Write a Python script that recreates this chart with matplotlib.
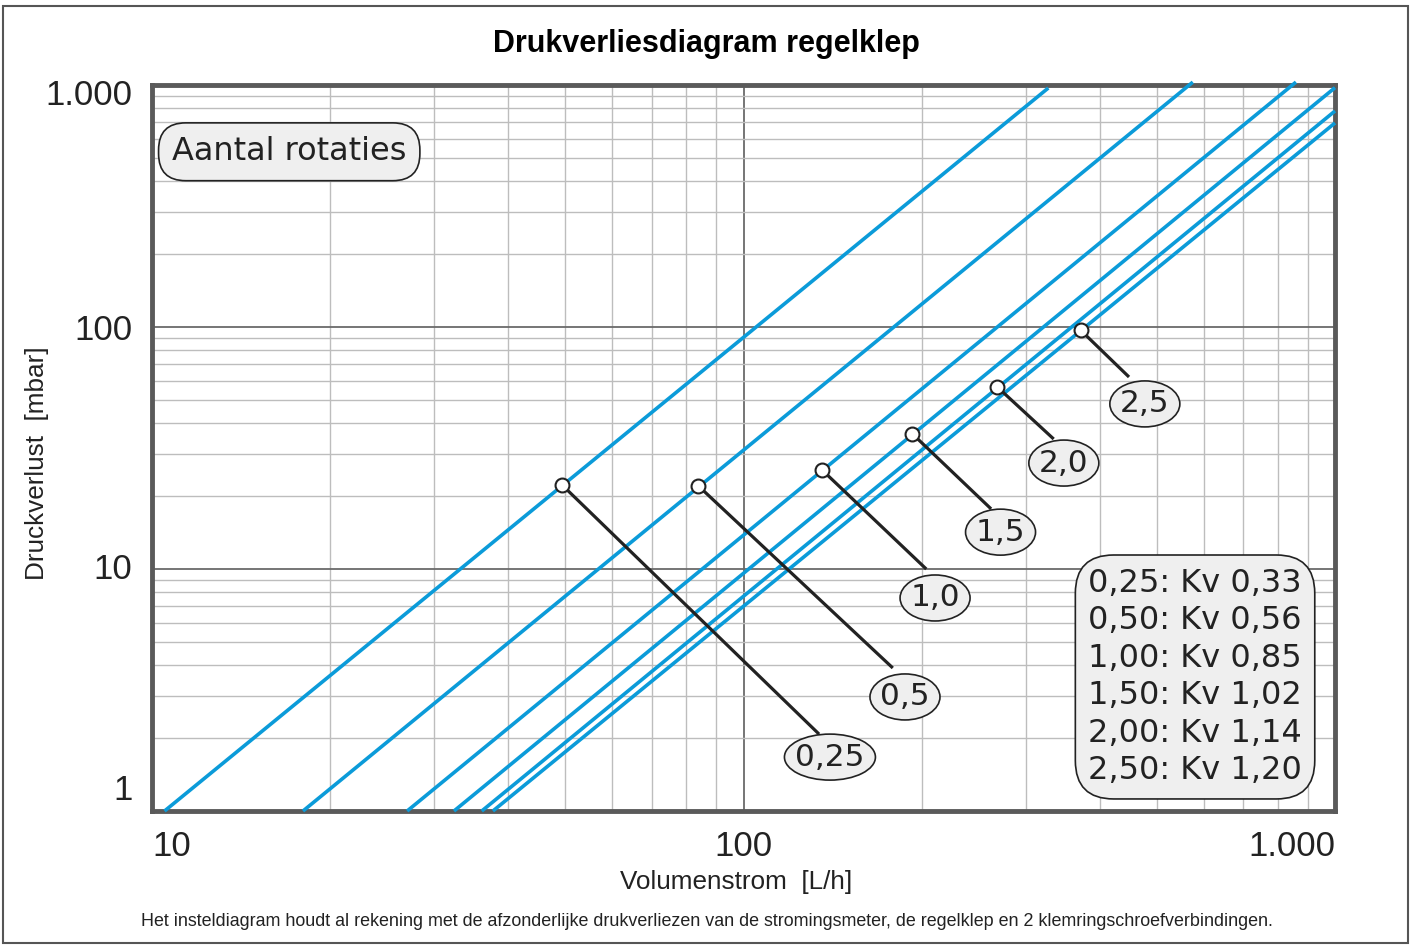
#!/usr/bin/env python3

## Drukverliesdiagram regelklep - log-log pressure drop chart
import numpy as np
import matplotlib
matplotlib.use('Agg')
from matplotlib import pyplot as plt
from matplotlib.patches import Ellipse, Rectangle
from matplotlib.ticker import NullFormatter
from matplotlib.transforms import ScaledTranslation

# settings (rotations) and Kv values shown in the box
rot_short = ['0,25', '0,5', '1,0', '1,5', '2,0', '2,5']
rot_long = ['0,25', '0,50', '1,00', '1,50', '2,00', '2,50']
kv_text = ['0,33', '0,56', '0,85', '1,02', '1,14', '1,20']

# blue lines: start and end points (L/h, mbar)
q_start = [10.5, 18.0, 27.0, 32.4, 36.1, 37.7]
dp_start = [1.0, 1.0, 1.0, 1.0, 1.0, 1.0]
q_end = [327.6, 575.0, 859.0, 1000.0, 1000.0, 1000.0]
dp_end = [972.0, 1028.0, 1028.0, 975.0, 781.0, 697.0]

# marker points on the lines
mark_q = [49.3, 83.8, 135.9, 192.7, 268.4, 371.5]
mark_dp = [22.3, 22.1, 25.6, 36.3, 56.6, 97.0]
# end of the leader lines
lead_q = [133.6, 178.0, 202.8, 261.0, 333.0, 446.5]
lead_dp = [2.10, 3.94, 10.1, 17.9, 34.8, 62.8]
# centre of the label ellipses
lab_q = [140.0, 187.5, 210.8, 272.0, 348.0, 477.0]
lab_dp = [1.67, 2.96, 7.59, 14.2, 27.4, 48.1]

xticks = [10, 100, 1000]
xtick_labels = ['10', '100', '1.000']
yticks = [1, 10, 100, 1000]
ytick_labels = ['1', '10', '100', '1.000']

BLUE = '#0b9bd9'
INK = '#222222'
FILL = '#efefef'

fig = plt.figure(figsize=(14.13, 9.47), dpi=100)
ax = fig.add_axes([152/1413, 1-811/947, 1183/1413, 726/947])
ax.set_xscale('log')
ax.set_yscale('log')
ax.set_xlim(10, 1000)
ax.set_ylim(1, 1000)

ax.grid(which='major', color='#6a6a6a', lw=1.3)
ax.grid(which='minor', color='#bdbdbd', lw=1.0)
ax.set_axisbelow(True)
for s in ax.spines.values():
    s.set_linewidth(3.5)
    s.set_color('#5a5a5a')

ax.tick_params(which='both', length=0, pad=14, labelsize=25, labelcolor=INK)
ax.set_xticks(xticks, xtick_labels)
ax.set_yticks(yticks, ytick_labels)
ax.xaxis.set_minor_formatter(NullFormatter())
ax.yaxis.set_minor_formatter(NullFormatter())
for lab in ax.get_xticklabels() + ax.get_yticklabels():
    lab.set_family('Liberation Sans')
xl = ax.get_xticklabels()
xl[0].set_ha('left')
xl[-1].set_ha('right')
yl = ax.get_yticklabels()
yl[0].set_transform(yl[0].get_transform() + ScaledTranslation(0, 0.24, fig.dpi_scale_trans))
yl[1].set_transform(yl[1].get_transform() + ScaledTranslation(0, 0.03, fig.dpi_scale_trans))
yl[-1].set_transform(yl[-1].get_transform() + ScaledTranslation(0, -0.07, fig.dpi_scale_trans))

for i in range(len(q_start)):
    ax.plot([q_start[i], q_end[i]], [dp_start[i], dp_end[i]], color=BLUE, lw=2.6,
            solid_capstyle='butt', clip_on=False, zorder=3)

for i in range(len(mark_q)):
    ax.plot([mark_q[i], lead_q[i]], [mark_dp[i], lead_dp[i]], color=INK, lw=2.3, zorder=4)
    ax.plot(mark_q[i], mark_dp[i], 'o', ms=10, mfc='white', mec=INK, mew=1.5, zorder=5)
    w = 0.91 if len(rot_short[i]) > 3 else 0.70
    tr = fig.dpi_scale_trans + ScaledTranslation(lab_q[i], lab_dp[i], ax.transData)
    e = Ellipse((0, 0), w, 0.46, transform=tr, fc=FILL, ec=INK, lw=1.2, zorder=6, clip_on=False)
    ax.add_patch(e)
    ax.text(lab_q[i], lab_dp[i], rot_short[i], ha='center', va='center', fontsize=22.5,
            family='DejaVu Sans', color=INK, zorder=7)

ax.text(0.116, 0.908, 'Aantal rotaties', transform=ax.transAxes, ha='center', va='center',
        fontsize=23, family='DejaVu Sans', color=INK, zorder=7,
        bbox=dict(boxstyle='round,pad=0.42,rounding_size=0.85', fc=FILL, ec=INK, lw=1.2))

legend_text = '\n'.join(f'{r}: Kv {k}' for r, k in zip(rot_long, kv_text))
ax.text(0.8817, 0.1846, legend_text, transform=ax.transAxes, ha='center', va='center',
        multialignment='left', fontsize=23, family='DejaVu Sans', color=INK, linespacing=1.27,
        zorder=7, bbox=dict(boxstyle='round,pad=0.4,rounding_size=1.2', fc=FILL, ec=INK, lw=1.2))

fig.text(0.5, 1-44/947, 'Drukverliesdiagram regelklep', ha='center', va='center',
         fontsize=22, weight='bold', family='Liberation Sans', color='black')
fig.text(736/1413, 1-882/947, 'Volumenstrom  [L/h]', ha='center', va='center',
         fontsize=18.8, family='Liberation Sans', color=INK)
fig.text(37/1413, 1-463/947, 'Druckverlust  [mbar]', ha='center', va='center', rotation=90,
         fontsize=18.8, family='Liberation Sans', color=INK)
fig.text(0.5, 1-921/947, 'Het insteldiagram houdt al rekening met de afzonderlijke drukverliezen '
         'van de stromingsmeter, de regelklep en 2 klemringschroefverbindingen.',
         ha='center', va='center', fontsize=12.9, family='Liberation Sans', color=INK)

fig.add_artist(Rectangle((3/1413, 4/947), 1405/1413, 937/947, transform=fig.transFigure,
                         fill=False, ec='#555555', lw=1.5))

plt.savefig('out.png', dpi=100)
